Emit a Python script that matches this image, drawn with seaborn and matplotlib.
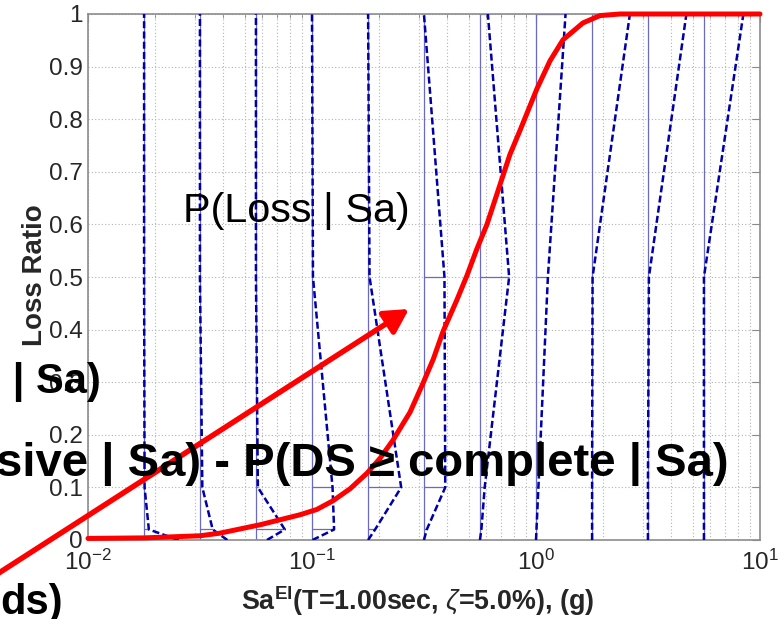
import numpy as np
import pandas as pd
import matplotlib
matplotlib.use("Agg")
import matplotlib.pyplot as plt
from matplotlib.ticker import FixedLocator, LogLocator, NullFormatter
import seaborn as sns

# ---------------- data ----------------
# expected loss curve  P(Loss | Sa)
sa_curve = [0.0100, 0.0178, 0.0316, 0.0388, 0.0587, 0.0884, 0.105, 0.124, 0.148,
            0.176, 0.201, 0.230, 0.274, 0.313, 0.348, 0.385, 0.443, 0.492, 0.543,
            0.604, 0.705, 0.765, 0.849, 1.01, 1.155, 1.32, 1.62, 1.93, 2.37, 10.0]
loss_curve = [0.003, 0.004, 0.008, 0.013, 0.029, 0.048, 0.058, 0.0745, 0.0975,
              0.127, 0.155, 0.190, 0.243, 0.298, 0.344, 0.397, 0.456, 0.503, 0.552,
              0.600, 0.687, 0.733, 0.779, 0.858, 0.911, 0.951, 0.983, 0.997, 1.000, 1.000]

# Sa levels at which the loss distributions are drawn (sideways)
sa_levels = [0.0178, 0.0316, 0.0562, 0.100, 0.178, 0.316, 0.562, 1.00, 1.78, 3.16, 5.62]
# loss ratio of each damage state: none, slight, moderate, extensive, complete
loss_levels = [0.0, 0.02, 0.1, 0.5, 1.0]
p_none      = [0.85, 0.65, 0.24, 0.01, 0.00, 0.00, 0.00, 0.00, 0.00, 0.00, 0.00]
p_slight    = [0.10, 0.28, 0.69, 0.51, 0.15, 0.06, 0.03, 0.01, 0.00, 0.00, 0.00]
p_moderate  = [0.01, 0.05, 0.04, 0.47, 0.81, 0.49, 0.10, 0.05, 0.00, 0.00, 0.00]
p_extensive = [0.00, 0.00, 0.00, 0.02, 0.03, 0.47, 0.70, 0.26, 0.01, 0.02, 0.00]
p_complete  = [0.00, 0.00, 0.00, 0.00, 0.00, 0.00, 0.17, 0.71, 0.95, 0.97, 1.00]

xticks = [0.01, 0.1, 1.0, 10.0]
xtick_labels = [r"$10^{-2}$", r"$10^{-1}$", r"$10^{0}$", r"$10^{1}$"]
yticks = [0, 0.1, 0.2, 0.3, 0.4, 0.5, 0.6, 0.7, 0.8, 0.9, 1.0]
ytick_labels = ["0", "0.1", "0.2", "0.3", "0.4", "0.5", "0.6", "0.7", "0.8", "0.9", "1"]

x_label = r"Sa$^{\mathbf{El}}$(T=1.00sec, $\zeta$=5.0%), (g)"
y_label = "Loss Ratio"
curve_label = "P(Loss | Sa)"
slide_text_1 = "e | Sa)"
slide_text_2 = "sive | Sa) - P(DS \u2265 complete | Sa)"
slide_text_3 = "ds)"

BAR_SCALE = 0.5  # horizontal length of a bar = Sa * BAR_SCALE * probability

# ---------------- style ----------------
sns.set_theme(style="white")
plt.rcParams["font.family"] = ["Liberation Sans", "DejaVu Sans"]
plt.rcParams["mathtext.fontset"] = "custom"
plt.rcParams["mathtext.rm"] = "Liberation Sans"
plt.rcParams["mathtext.it"] = "Liberation Sans:italic"
plt.rcParams["mathtext.bf"] = "Liberation Sans:bold"

W, H = 779, 619
fig = plt.figure(figsize=(W / 100, H / 100), dpi=100)
fig.patch.set_facecolor("white")
ax = fig.add_axes([88 / W, 1 - 540 / H, (760 - 88) / W, (540 - 14) / H])
ax.set_xscale("log")
ax.set_xlim(0.01, 10)
ax.set_ylim(0, 1)

# grid
grid_kw = dict(color="#b4b4b4", linewidth=0.8, linestyle=(0, (1, 2)))
ax.grid(True, which="major", axis="both", **grid_kw)
ax.grid(True, which="minor", axis="x", **grid_kw)
ax.set_axisbelow(True)

# ---------------- sideways distributions ----------------
probs = np.array([p_none, p_slight, p_moderate, p_extensive, p_complete]).T  # (n_sa, n_ds)
rows = []
for sa, pk in zip(sa_levels, probs):
    for L, p in zip(loss_levels, pk):
        rows.append({"sa": sa, "loss": L, "p": p, "x": sa * (1 + BAR_SCALE * p)})
df = pd.DataFrame(rows)

solid_col = "#6a6ac4"
ax.vlines(sa_levels, 0, 1, colors=solid_col, linewidth=0.9, zorder=2)
bars = df[df["p"] > 0]
ax.hlines(bars["loss"], bars["sa"], bars["x"], colors=solid_col, linewidth=0.9, zorder=2)

sns.lineplot(data=df, x="x", y="loss", units="sa", estimator=None, sort=False,
             color="#0000a8", linewidth=1.8, linestyle=(0, (2.8, 1.3)), ax=ax,
             legend=False, zorder=3)

# ---------------- expected loss curve ----------------
sns.lineplot(x=sa_curve, y=loss_curve, color="#ff0000", linewidth=3.6, ax=ax,
             estimator=None, sort=False, legend=False, zorder=5, clip_on=False)

# ---------------- axes decoration ----------------
ax.xaxis.set_major_locator(FixedLocator(xticks))
ax.set_xticklabels(xtick_labels)
ax.xaxis.set_minor_locator(LogLocator(base=10, subs=np.arange(2, 10)))
ax.xaxis.set_minor_formatter(NullFormatter())
ax.set_yticks(yticks)
ax.set_yticklabels(ytick_labels)
ax.tick_params(axis="both", which="both", direction="in", top=True, right=True,
               colors="#8a8a8a", labelcolor="#262626", labelsize=17.5)
ax.tick_params(axis="both", which="major", length=6, width=0.8)
ax.tick_params(axis="both", which="minor", length=3, width=0.6)
ax.tick_params(axis="y", pad=4)
ax.tick_params(axis="x", pad=7)
for s in ax.spines.values():
    s.set_color("#8c8c8c")
    s.set_linewidth(1.2)

ax.set_xlabel(x_label, fontsize=19.4, fontweight="bold", color="#262626")
ax.xaxis.set_label_coords((418 - 88) / 672, (540 - 584) / 526)
ax.set_ylabel(y_label, fontsize=20, fontweight="bold", color="#262626")
ax.yaxis.set_label_coords((48 - 88) / 672, (540 - 275) / 526)

# ---------------- overlaid slide annotations ----------------
def fx(px):
    return px / W

def fy(py):
    return 1 - py / H

fig.text(fx(183), fy(222), curve_label, fontsize=29.8, color="black",
         ha="left", va="baseline", zorder=10)
fig.text(fx(101), fy(393), slide_text_1, fontsize=30, fontweight="bold", color="black",
         ha="right", va="baseline", zorder=10)
fig.text(fx(729), fy(476), slide_text_2, fontsize=34, fontweight="bold", color="black",
         ha="right", va="baseline", zorder=10)
fig.text(fx(63), fy(614), slide_text_3, fontsize=30, fontweight="bold", color="black",
         ha="right", va="baseline", zorder=10)

arrow = ax.annotate("", xy=(409, H - 309), xycoords="figure pixels",
                    xytext=(-40, H - 598), textcoords="figure pixels",
                    arrowprops=dict(arrowstyle="-|>,head_length=0.4,head_width=0.22",
                                    color="#ff0000", lw=3.9, mutation_scale=36,
                                    shrinkA=0, shrinkB=0),
                    annotation_clip=False, zorder=20)
arrow.set_clip_on(False)

fig.savefig("out.png", dpi=100)
